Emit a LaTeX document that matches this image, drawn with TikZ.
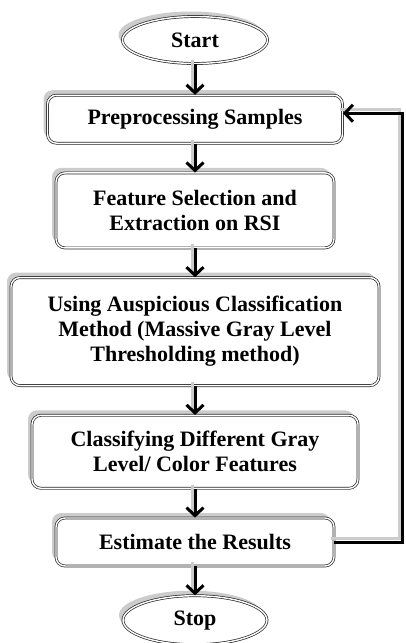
\documentclass[tikz,border=0pt]{standalone}
\usepackage{fontspec}
\setmainfont{Liberation Serif}
\usetikzlibrary{positioning, shapes.geometric, shadows, arrows.meta}

\tikzset{
  flowbox/.style={draw=black!85, line width=0.7pt, double, double distance=1.4pt,
    rounded corners=9pt, fill=white, align=center, inner sep=0pt,
    font=\fontsize{22}{25}\selectfont\bfseries,
    drop shadow={shadow xshift=-4pt, shadow yshift=5pt, fill=gray!50, opacity=0.8}},
  terminal/.style={flowbox, ellipse, rounded corners=0pt},
  flowarrow/.style={-{Straight Barb[length=8pt,width=17pt]}, line width=3pt, black,
    preaction={draw=gray!40, line width=3pt, -, transform canvas={shift={(-3pt,4pt)}}}},
}

\begin{document}
\begin{tikzpicture}[x=1pt, y=-1pt, node distance=29pt]
  \useasboundingbox (0,0) rectangle (406,643);

  \node[terminal, minimum width=145pt, minimum height=47pt] (start) at (195,40) {Start};
  \node[flowbox, below=31pt of start, minimum width=295pt, minimum height=48pt] (pre) {Preprocessing Samples};
  \node[flowbox, below=of pre, minimum width=278pt, minimum height=75pt] (feat) {Feature Selection and\\Extraction on RSI};
  \node[flowbox, below=of feat, minimum width=368pt, minimum height=108pt] (clsm) {Using Auspicious Classification\\Method (Massive Gray Level\\Thresholding method)};
  \node[flowbox, below=of clsm, minimum width=326pt, minimum height=73pt] (diff) {Classifying Different Gray\\Level/ Color Features};
  \node[flowbox, below=of diff, minimum width=278pt, minimum height=48pt] (est) {Estimate the Results};
  \node[terminal, below=of est, minimum width=144pt, minimum height=49pt] (stop) {Stop};

  \coordinate (loop) at (402,538);

  \draw[flowarrow] (start) -- (pre);
  \draw[flowarrow] (pre) -- (feat);
  \draw[flowarrow] (feat) -- (clsm);
  \draw[flowarrow] (clsm) -- (diff);
  \draw[flowarrow] (diff) -- (est);
  \draw[flowarrow] (est) -- (stop);
  % feedback
  \draw[flowarrow] (est.east) -- (est.east -| loop) |- ([yshift=6pt]pre.east);
\end{tikzpicture}
\end{document}
